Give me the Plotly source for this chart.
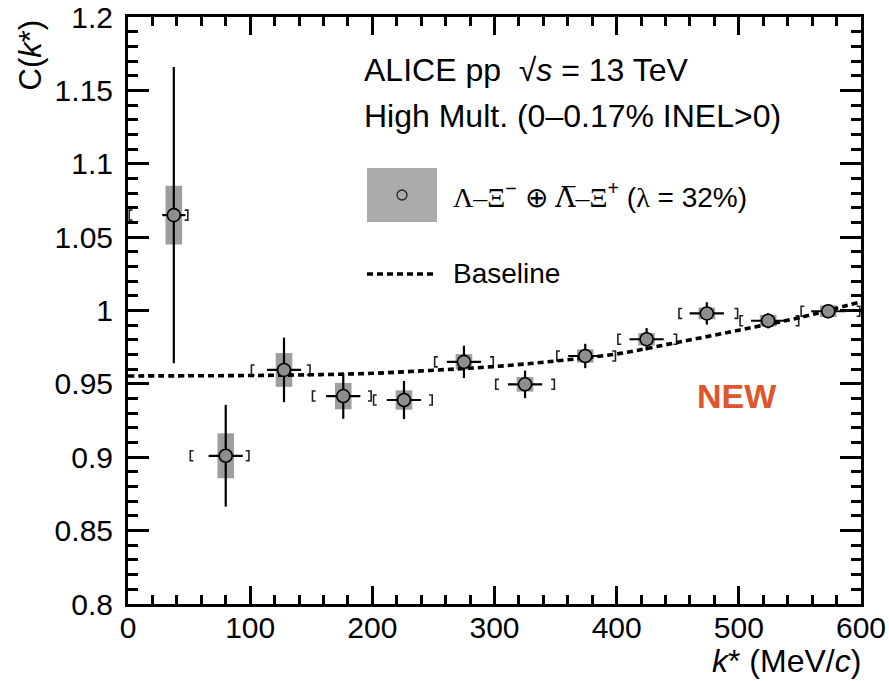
import plotly.graph_objects as go

# ---------------- data ----------------
kstar = [37.5, 80.0, 127.7, 176.2, 225.9, 275.0, 325.0, 374.3, 424.5, 473.8, 524.0, 573.2]
corr = [1.065, 0.901, 0.9595, 0.9417, 0.939, 0.965, 0.9497, 0.969, 0.9804, 0.998, 0.993, 0.9995]
stat_err = [0.101, 0.0347, 0.022, 0.0155, 0.013, 0.011, 0.0094, 0.0083, 0.0076, 0.0076, 0.0052, 0.0048]
syst_err = [0.020, 0.0153, 0.0115, 0.009, 0.0066, 0.0053, 0.005, 0.0045, 0.0042, 0.004, 0.004, 0.004]
kstar_err = [9.5, 14.0, 14.0, 14.0, 14.0, 14.0, 14.0, 14.0, 14.0, 14.0, 14.0, 14.0]
bin_lo = [0, 50, 100, 150, 200, 250, 300, 350, 400, 450, 500, 550]
bin_hi = [50, 100, 150, 200, 250, 300, 350, 400, 450, 500, 550, 600]

base_k = [0, 50, 100, 150, 200, 250, 300, 350, 400, 450, 500, 550, 600]
base_c = [0.9554, 0.9555, 0.9557, 0.9562, 0.9572, 0.9593, 0.9618, 0.9656, 0.9704, 0.9783, 0.9866, 0.9952, 1.0060]

x_ticks = [0, 100, 200, 300, 400, 500, 600]
y_ticks = [0.8, 0.85, 0.9, 0.95, 1.0, 1.05, 1.1, 1.15, 1.2]
y_ticklabels = ["0.8", "0.85", "0.9", "0.95", "1", "1.05", "1.1", "1.15", "1.2"]

# ---------------- geometry ----------------
W, H = 889, 681
L, R, T, B = 128, 861, 17, 604


def px(xp):
    return (xp - L) / (R - L)


def py(yp):
    return (B - yp) / (B - T)


FONT = "Liberation Sans, Arial, Helvetica, sans-serif"
SERIF = "Liberation Serif, Times New Roman, serif"
DSERIF = "DejaVu Serif, serif"

fig = go.Figure()

# systematic boxes
fig.add_trace(go.Bar(
    x=kstar, y=[2 * s for s in syst_err], base=[c - s for c, s in zip(corr, syst_err)],
    width=13.6, marker=dict(color="#9e9e9e", line=dict(width=0)),
    showlegend=False, hoverinfo="skip"))

# bin brackets
bh = 0.0034
ser = 2.6
bx, by = [], []
for lo, hi, c in zip(bin_lo, bin_hi, corr):
    xl = lo + 1.0
    bx += [xl + ser, xl, xl, xl + ser, None]
    by += [c + bh, c + bh, c - bh, c - bh, None]
    xr = hi - 1.0
    bx += [xr - ser, xr, xr, xr - ser, None]
    by += [c + bh, c + bh, c - bh, c - bh, None]
fig.add_trace(go.Scatter(x=bx, y=by, mode="lines", line=dict(color="#222222", width=1.6),
                         showlegend=False, hoverinfo="skip", cliponaxis=True))

# baseline
fig.add_trace(go.Scatter(x=base_k, y=base_c, mode="lines",
                         line=dict(color="black", width=3.6, dash="6px,4px", shape="spline"),
                         showlegend=False, hoverinfo="skip"))

# data points with stat errors
fig.add_trace(go.Scatter(
    x=kstar, y=corr, mode="markers",
    marker=dict(symbol="circle", size=13, color="#8e8e8e", line=dict(color="black", width=1.6)),
    error_y=dict(type="data", array=stat_err, visible=True, color="black", thickness=2.2, width=0),
    error_x=dict(type="data", array=kstar_err, visible=True, color="black", thickness=2.2, width=0),
    showlegend=False, hoverinfo="skip"))

axis_common = dict(showline=True, linecolor="black", linewidth=3, mirror="ticks",
                   ticks="inside", tickcolor="black", tickwidth=2.8, showgrid=False, zeroline=False,
                   automargin=False,
                   tickfont=dict(family=FONT, size=30, color="black"))

fig.update_xaxes(range=[0, 600], tickvals=x_ticks, ticklen=18,
                 minor=dict(dtick=20, tick0=0, ticklen=9, tickwidth=2.6, tickcolor="black", ticks="inside"),
                 ticklabelstandoff=-5, **axis_common)
fig.update_yaxes(range=[0.8, 1.2], tickvals=y_ticks, ticktext=y_ticklabels, ticklen=21,
                 minor=dict(dtick=0.01, tick0=0.8, ticklen=10, tickwidth=2.6, tickcolor="black", ticks="inside"),
                 ticklabelstandoff=6, **axis_common)

ann = []
# axis titles
ann.append(dict(text="C(<i>k</i>*)", xref="paper", yref="paper", x=px(30), y=py(17),
                xanchor="center", yanchor="top", textangle=-90, showarrow=False,
                font=dict(family=FONT, size=31, color="black")))
ann.append(dict(text="<i>k</i>* (MeV/<i>c</i>)", xref="paper", yref="paper", x=px(863), y=py(661),
                xanchor="right", yanchor="middle", showarrow=False,
                font=dict(family=FONT, size=32, color="black")))
# header
ann.append(dict(text="ALICE pp  √<i>s</i> = 13 TeV", xref="paper", yref="paper", x=px(362), y=py(70),
                xanchor="left", yanchor="middle", showarrow=False,
                font=dict(family=FONT, size=32, color="black")))
ann.append(dict(text="High Mult. (0–0.17% INEL>0)", xref="paper", yref="paper", x=px(362), y=py(116),
                xanchor="left", yanchor="middle", showarrow=False,
                font=dict(family=FONT, size=32, color="black")))
# legend
leg1 = ("<span style='font-family:" + SERIF + "'>Λ–Ξ</span><sup>−</sup> ⊕ "
        "<span style='font-family:" + DSERIF + "'>Λ̅</span>"
        "<span style='font-family:" + SERIF + "'>–Ξ</span><sup>+</sup> "
        "(<span style='font-family:" + SERIF + "'>λ</span> = 32%)")
ann.append(dict(text=leg1, xref="paper", yref="paper", x=px(451), y=py(195),
                xanchor="left", yanchor="middle", showarrow=False,
                font=dict(family=FONT, size=28, color="black")))
ann.append(dict(text="Baseline", xref="paper", yref="paper", x=px(451), y=py(273),
                xanchor="left", yanchor="middle", showarrow=False,
                font=dict(family=FONT, size=28, color="black")))
# NEW
ann.append(dict(text="<b>NEW</b>", xref="paper", yref="paper", x=px(737), y=py(396),
                xanchor="center", yanchor="middle", showarrow=False,
                font=dict(family=FONT, size=34, color="#e0552b")))

shapes = [
    dict(type="rect", xref="paper", yref="paper", x0=px(367), x1=px(437), y0=py(222), y1=py(168),
         fillcolor="#ababab", line=dict(width=0), layer="above"),
    dict(type="circle", xref="paper", yref="paper", x0=px(397), x1=px(407), y0=py(200), y1=py(190),
         fillcolor="rgba(0,0,0,0)", line=dict(color="#222222", width=1.3), layer="above"),
    dict(type="line", xref="paper", yref="paper", x0=px(367), x1=px(434), y0=py(274), y1=py(274),
         line=dict(color="black", width=3.6, dash="6px,4px"), layer="above"),
]

fig.update_layout(
    width=W, height=H,
    margin=dict(l=L, r=W - R, t=T, b=H - B, pad=0, autoexpand=False),
    paper_bgcolor="white", plot_bgcolor="white",
    showlegend=False, annotations=ann, shapes=shapes,
    font=dict(family=FONT, color="black"),
)

fig.write_html("out.html")
